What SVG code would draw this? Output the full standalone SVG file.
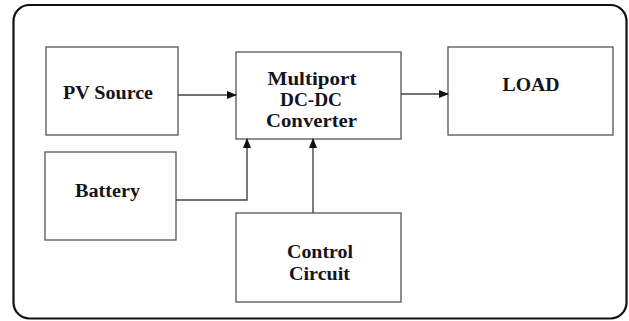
<svg xmlns="http://www.w3.org/2000/svg" width="629" height="321" viewBox="0 0 629 321">
<style>
.box{fill:#fff;stroke:#555;stroke-width:1.3}
.lbl{font-family:'Liberation Serif','Times New Roman','DejaVu Serif',serif;font-weight:700;font-size:18px;fill:#141420;text-anchor:middle}
.con{fill:none;stroke:#444;stroke-width:1.4}
</style>
<defs>
<marker id="arr" markerWidth="10" markerHeight="8" refX="9" refY="4" orient="auto" markerUnits="userSpaceOnUse">
<path d="M0,0 L10,4 L0,8 Z" fill="#111"/>
</marker>
</defs>
<rect width="629" height="321" fill="#fff"/>
<rect id="frame" x="13.5" y="5" width="613" height="313.5" rx="16" ry="16" fill="none" stroke="#111" stroke-width="2.2"/>
<g id="pv"><rect class="box" x="46" y="47" width="132" height="88"/><text class="lbl" x="108" y="99" textLength="90" lengthAdjust="spacingAndGlyphs">PV Source</text></g>
<g id="conv"><rect class="box" x="236" y="52" width="165" height="87"/>
<text class="lbl" x="312" y="85" textLength="89" lengthAdjust="spacingAndGlyphs">Multiport</text>
<text class="lbl" x="311" y="106" textLength="62" lengthAdjust="spacingAndGlyphs">DC-DC</text>
<text class="lbl" x="311.5" y="127" textLength="91" lengthAdjust="spacingAndGlyphs">Converter</text></g>
<g id="load"><rect class="box" x="448" y="47" width="165" height="88"/><text class="lbl" x="531" y="91" textLength="57" lengthAdjust="spacingAndGlyphs">LOAD</text></g>
<g id="battery"><rect class="box" x="45" y="152" width="131" height="88"/><text class="lbl" x="107.5" y="197" textLength="65" lengthAdjust="spacingAndGlyphs">Battery</text></g>
<g id="control"><rect class="box" x="236" y="213" width="165" height="89"/>
<text class="lbl" x="320" y="258" textLength="66" lengthAdjust="spacingAndGlyphs">Control</text>
<text class="lbl" x="319.5" y="280" textLength="61" lengthAdjust="spacingAndGlyphs">Circuit</text></g>
<g id="connectors">
<path class="con" d="M178,95 H236" marker-end="url(#arr)"/>
<path class="con" d="M401,94 H448" marker-end="url(#arr)"/>
<path class="con" d="M176,200 H247 V139" marker-end="url(#arr)"/>
<path class="con" d="M313,213 V139" marker-end="url(#arr)"/>
</g>
</svg>
